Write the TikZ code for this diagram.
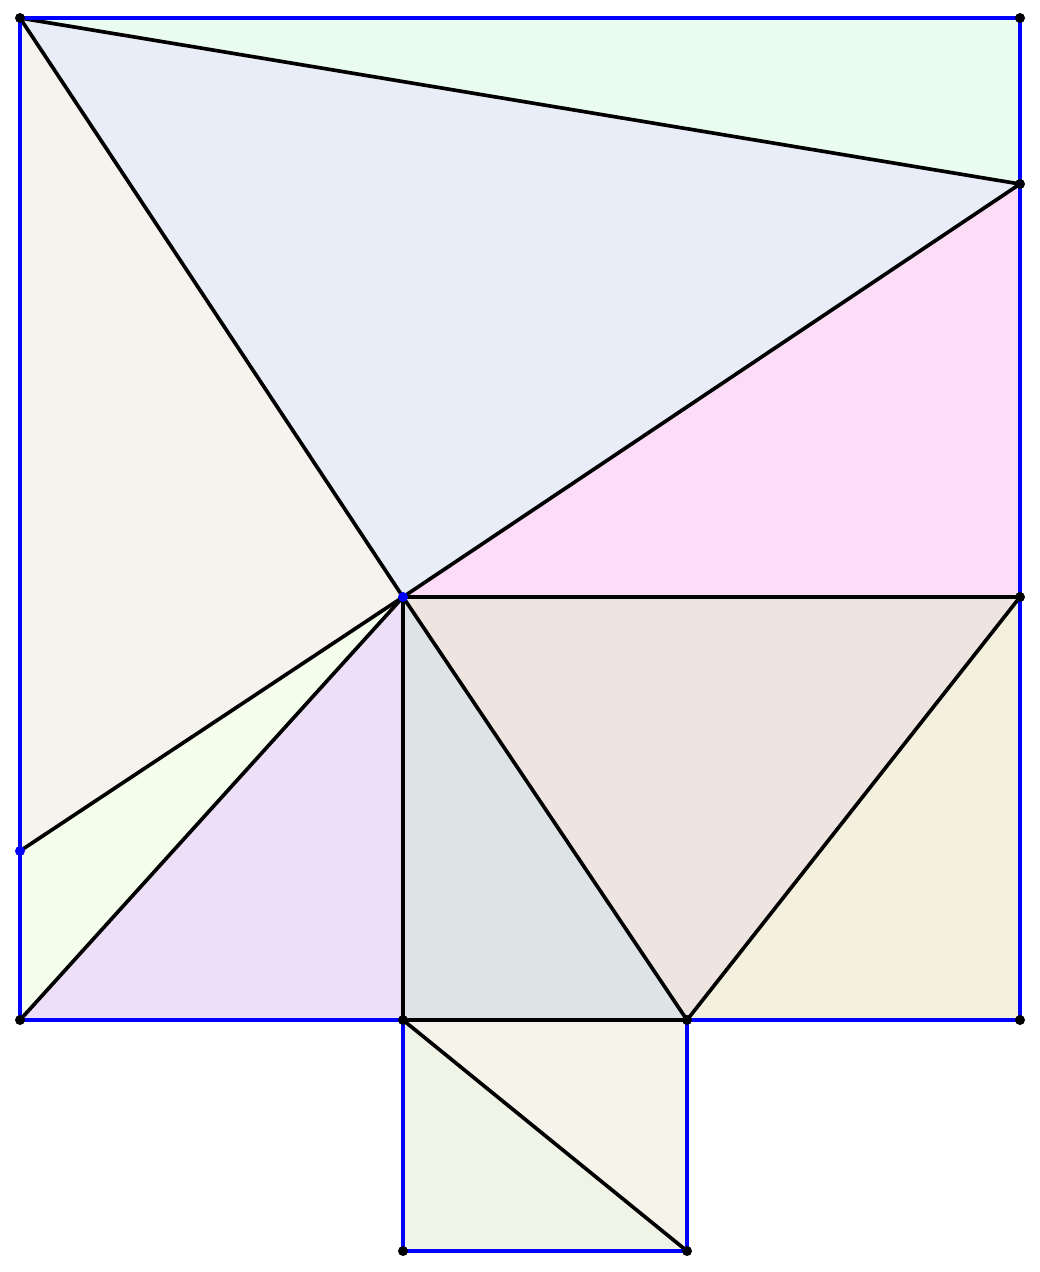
\documentclass[tikz,border=0pt]{standalone}
\usepackage{tikz}
\definecolor{edgeblue}{HTML}{0000FF}
\definecolor{pieceA}{HTML}{EAFBF0}
\definecolor{pieceB}{HTML}{E9EDF7}
\definecolor{pieceC}{HTML}{F6F3EE}
\definecolor{pieceD}{HTML}{FCDCF7}
\definecolor{pieceE}{HTML}{F5FDEC}
\definecolor{pieceF}{HTML}{EEDFF8}
\definecolor{pieceG}{HTML}{DEE3E6}
\definecolor{pieceH}{HTML}{EEE5E1}
\definecolor{pieceI}{HTML}{F3F0DE}
\definecolor{pieceJ}{HTML}{F6F4EA}
\definecolor{pieceK}{HTML}{F0F4E6}
\tikzset{
  cut/.style={draw=black, line width=2.6pt, line join=round},
  rim/.style={draw=edgeblue, line width=2.6pt, line cap=round},
  vertex/.style={fill=black},
  bluevertex/.style={fill=edgeblue},
}

\begin{document}
\begin{tikzpicture}[x=0.025cm, y=-0.025cm]
    \useasboundingbox (0,0) rectangle (1040,1272);
    \coordinate (tl) at (20, 18);
    \coordinate (tr) at (1020, 18);
    \coordinate (r1) at (1020, 184);
    \coordinate (r2) at (1020, 597);
    \coordinate (br) at (1020, 1020);
    \coordinate (bl) at (20, 1020);
    \coordinate (l1) at (20, 851);
    \coordinate (ctr) at (403, 597);
    \coordinate (b1) at (403, 1020);
    \coordinate (b2) at (687, 1020);
    \coordinate (s1) at (403, 1251);
    \coordinate (s2) at (687, 1251);
    % pieces
    \fill[pieceA] (tl) -- (tr) -- (r1) -- cycle;
    \fill[pieceB] (tl) -- (r1) -- (ctr) -- cycle;
    \fill[pieceC] (tl) -- (ctr) -- (l1) -- cycle;
    \fill[pieceD] (ctr) -- (r1) -- (r2) -- cycle;
    \fill[pieceE] (ctr) -- (l1) -- (bl) -- cycle;
    \fill[pieceF] (ctr) -- (bl) -- (b1) -- cycle;
    \fill[pieceG] (ctr) -- (b1) -- (b2) -- cycle;
    \fill[pieceH] (ctr) -- (b2) -- (r2) -- cycle;
    \fill[pieceI] (r2) -- (b2) -- (br) -- cycle;
    \fill[pieceJ] (b1) -- (b2) -- (s2) -- cycle;
    \fill[pieceK] (b1) -- (s2) -- (s1) -- cycle;
    % cuts
    \foreach \a/\b in {tl/r1, tl/ctr, ctr/r1, ctr/r2, ctr/l1, ctr/bl, ctr/b1, ctr/b2, b2/r2, b1/b2, b1/s2}
      \draw[cut] (\a) -- (\b);
    % outline
    \draw[rim] (b1) -- (bl) -- (tl) -- (tr) -- (br) -- (b2);
    \draw[rim] (b1) -- (s1) -- (s2) -- (b2);
    % points
    \foreach \p in {tl, tr, r1, r2, br, bl, b1, b2, s1, s2}
      \fill[vertex] (\p) circle (5);
    \foreach \p in {ctr, l1}
      \fill[bluevertex] (\p) circle (5);
\end{tikzpicture}
\end{document}
